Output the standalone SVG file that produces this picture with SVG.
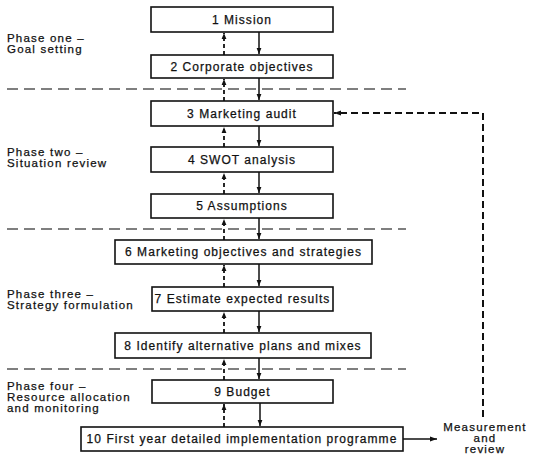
<svg xmlns="http://www.w3.org/2000/svg" width="534" height="460" viewBox="0 0 534 460">
<style>
text{font-family:"Liberation Sans",Arial,sans-serif;fill:#111;stroke:#111;stroke-width:0.25}
.box rect{fill:#fff;stroke:#111;stroke-width:1.6}
.box text{font-size:12px;letter-spacing:1.05px;text-anchor:middle}
.phase{font-size:11.5px;letter-spacing:1.2px}
.sep{stroke:#555;stroke-width:1.3;stroke-dasharray:11 6;fill:none}
.up{stroke:#111;stroke-width:1.8;stroke-dasharray:4 3;fill:none}
.down{stroke:#111;stroke-width:1.5;fill:none}
.fb{stroke:#111;stroke-width:2;stroke-dasharray:7 4;fill:none}
.mr{font-size:11.5px;letter-spacing:1.2px;text-anchor:middle}
</style>
<defs>
<marker id="ah" viewBox="0 0 10 10" refX="10" refY="5" markerWidth="6" markerHeight="6" markerUnits="userSpaceOnUse" orient="auto"><path d="M0,1 L10,5 L0,9 z" fill="#111"/></marker>
<marker id="ahw" viewBox="0 0 10 10" refX="10" refY="5" markerWidth="7" markerHeight="7" markerUnits="userSpaceOnUse" orient="auto"><path d="M0,1.5 L10,5 L0,8.5 z" fill="#111"/></marker>
</defs>
<rect width="534" height="460" fill="#fff"/>
<g id="phases">
<text class="phase" x="7" y="42">Phase one –</text>
<text class="phase" x="7" y="53">Goal setting</text>
<text class="phase" x="7" y="156">Phase two –</text>
<text class="phase" x="7" y="167">Situation review</text>
<text class="phase" x="7" y="298">Phase three –</text>
<text class="phase" x="7" y="309">Strategy formulation</text>
<text class="phase" x="7" y="390">Phase four –</text>
<text class="phase" x="7" y="401">Resource allocation</text>
<text class="phase" x="7" y="412">and monitoring</text>
</g>
<g id="separators">
<line class="sep" x1="7" y1="89" x2="406" y2="89"/>
<line class="sep" x1="7" y1="229" x2="406" y2="229"/>
<line class="sep" x1="7" y1="369" x2="406" y2="369"/>
</g>
<g id="connectors">
<line class="up" x1="224" y1="55" x2="224" y2="33" marker-end="url(#ah)"/>
<line class="down" x1="259" y1="32" x2="259" y2="54" marker-end="url(#ah)"/>
<line class="up" x1="224" y1="101" x2="224" y2="79" marker-end="url(#ah)"/>
<line class="down" x1="259" y1="78" x2="259" y2="100" marker-end="url(#ah)"/>
<line class="up" x1="224" y1="147" x2="224" y2="127" marker-end="url(#ah)"/>
<line class="down" x1="259" y1="126" x2="259" y2="146" marker-end="url(#ah)"/>
<line class="up" x1="224" y1="194" x2="224" y2="173" marker-end="url(#ah)"/>
<line class="down" x1="259" y1="172" x2="259" y2="193" marker-end="url(#ah)"/>
<line class="up" x1="224" y1="240" x2="224" y2="219" marker-end="url(#ah)"/>
<line class="down" x1="259" y1="218" x2="259" y2="239" marker-end="url(#ah)"/>
<line class="up" x1="224" y1="287" x2="224" y2="265" marker-end="url(#ah)"/>
<line class="down" x1="259" y1="264" x2="259" y2="286" marker-end="url(#ah)"/>
<line class="up" x1="224" y1="333" x2="224" y2="312" marker-end="url(#ah)"/>
<line class="down" x1="259" y1="311" x2="259" y2="332" marker-end="url(#ah)"/>
<line class="up" x1="224" y1="380" x2="224" y2="359" marker-end="url(#ah)"/>
<line class="down" x1="259" y1="358" x2="259" y2="379" marker-end="url(#ah)"/>
<line class="up" x1="224" y1="427" x2="224" y2="404" marker-end="url(#ah)"/>
<line class="down" x1="260" y1="403" x2="260" y2="426" marker-end="url(#ah)"/>
<line class="down" x1="403" y1="439" x2="437" y2="439" marker-end="url(#ahw)"/>
<polyline class="fb" points="483,417 483,113 334,113" marker-end="url(#ahw)"/>
</g>
<g id="n1" class="box"><rect x="151" y="7" width="182" height="25"/><text x="242" y="23.5">1 Mission</text></g>
<g id="n2" class="box"><rect x="151" y="55" width="182" height="23"/><text x="242" y="70.5">2 Corporate objectives</text></g>
<g id="n3" class="box"><rect x="151" y="101" width="182" height="25"/><text x="242" y="117.5">3 Marketing audit</text></g>
<g id="n4" class="box"><rect x="151" y="147" width="182" height="25"/><text x="242" y="163.5">4 SWOT analysis</text></g>
<g id="n5" class="box"><rect x="151" y="194" width="182" height="24"/><text x="242" y="210">5 Assumptions</text></g>
<g id="n6" class="box"><rect x="115" y="240" width="257" height="24"/><text x="243.5" y="256">6 Marketing objectives and strategies</text></g>
<g id="n7" class="box"><rect x="152" y="287" width="181" height="24"/><text x="242.5" y="303">7 Estimate expected results</text></g>
<g id="n8" class="box"><rect x="115" y="333" width="256" height="25"/><text x="243" y="349.5">8 Identify alternative plans and mixes</text></g>
<g id="n9" class="box"><rect x="152" y="380" width="181" height="23"/><text x="242.5" y="395.5">9 Budget</text></g>
<g id="n10" class="box"><rect x="81" y="427" width="322" height="24"/><text x="242" y="443">10 First year detailed implementation programme</text></g>
<g id="measurement">
<text class="mr" x="485" y="431">Measurement</text>
<text class="mr" x="485" y="442">and</text>
<text class="mr" x="485" y="453">review</text>
</g>
</svg>
